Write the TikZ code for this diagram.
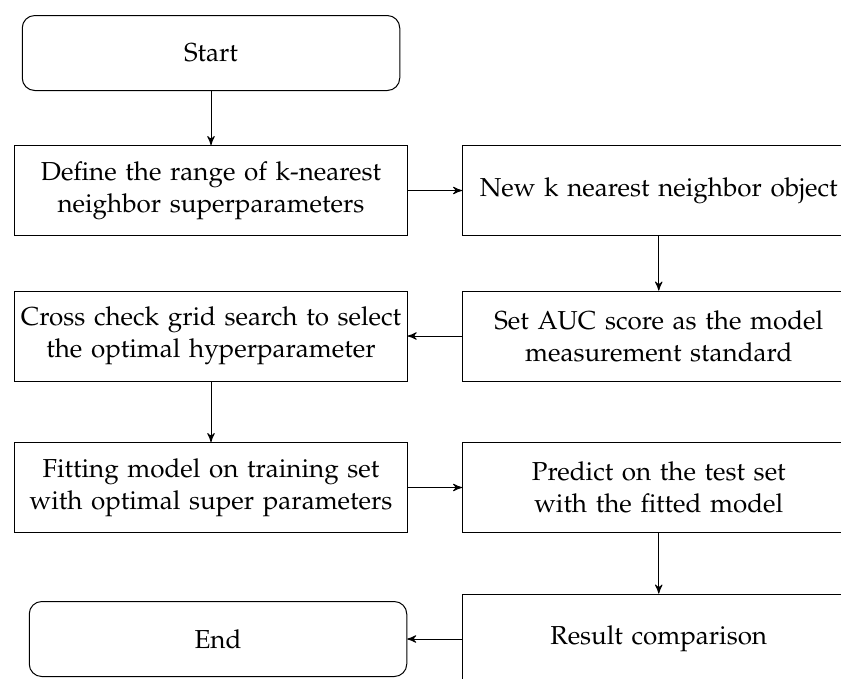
\documentclass[tikz,border=0pt]{standalone}
\usepackage[T1]{fontenc}
\usepackage{mathpazo}
\usepackage{tikz}
\usetikzlibrary{arrows,positioning,shapes.geometric,calc}
\tikzstyle{bloc} = [draw, text width=154pt, align=center, minimum width=157pt,
  minimum height=36pt, inner sep=1.5pt, line width=0.4pt,
  font=\fontsize{10.4pt}{12.8pt}\selectfont]
\tikzstyle{term} = [bloc, text width=148pt, minimum width=151pt,
  minimum height=30pt, rounded corners=5pt]
\tikzstyle{line} = [draw, line width=0.4pt, -stealth']
\newcommand{\bloc}[2]{node (p#1)[bloc]{#2}}
\newcommand{\term}[2]{node (p#1)[term]{#2}}

\begin{document}
\begin{tikzpicture}

  \useasboundingbox (0,0) rectangle (336.4pt,-271.2pt);

  % Draw diagram elements
  \path (84.4pt,-21.2pt) \term{1}{Start};
  \path (p1.south)+(0,-39.8pt) \bloc{2}{Define the range of k-nearest\\ neighbor superparameters};
  \path (p2.east)+(100.4pt,0) \bloc{3}{New k nearest neighbor object};
  \path (p3.south)+(0,-40pt) \bloc{4}{Set AUC score as the model\\ measurement standard};
  \path (p4.west)+(-100.4pt,0) \bloc{5}{Cross check grid search to select\\ the optimal hyperparameter};
  \path (p5.south)+(0,-42.4pt) \bloc{6}{Fitting model on training set\\ with optimal super parameters};
  \path (p6.east)+(100.4pt,0) \bloc{7}{Predict on the test set\\ with the fitted model};
  \path (p7.south)+(0,-42.4pt) \bloc{8}{Result comparison};
  \path (p8.west)+(-97.6pt,0) \term{9}{End};

  % Draw arrows between elements
  \path [line] (p1.south) -- (p2);
  \path [line] (p2.east) -- (p3);
  \path [line] (p3.south) -- (p4);
  \path [line] (p4.west) -- (p5);
  \path [line] (p5.south) -- (p6);
  \path [line] (p6.east) -- (p7);
  \path [line] (p7.south) -- (p8);
  \path [line] (p8.west) -- (p9);

\end{tikzpicture}
\end{document}
